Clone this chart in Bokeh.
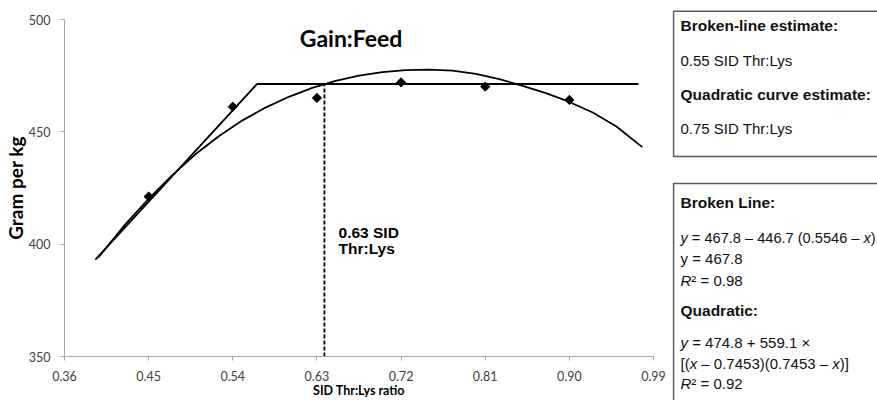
import numpy as np
from bokeh.plotting import figure
from bokeh.models import Range1d, FixedTicker, Label, PrintfTickFormatter
from bokeh.layouts import row
from bokeh.embed import file_html
from bokeh.resources import INLINE
from bokeh.core.properties import value

# ---------------- data ----------------
x_obs = [0.45, 0.54, 0.63, 0.72, 0.81, 0.90]
gf_obs = [421.2, 461.2, 465.1, 472.0, 470.1, 464.2]

broken_x = [0.393, 0.566, 0.974]
broken_y = [393.1, 471.3, 471.3]

quad_x = [0.396, 0.425, 0.45, 0.475, 0.50, 0.525, 0.55, 0.575, 0.60, 0.625, 0.65, 0.675,
          0.70, 0.725, 0.75, 0.775, 0.80, 0.825, 0.85, 0.875, 0.90, 0.925, 0.95, 0.978]
quad_y = [394.0, 408.8, 420.2, 430.6, 440.0, 448.0, 455.0, 460.8, 465.6, 469.6, 472.7, 475.0,
          476.6, 477.5, 477.7, 477.2, 475.8, 473.5, 470.5, 467.2, 463.3, 458.6, 452.5, 443.2]

opt_x = 0.638

x_ticks = [0.36, 0.45, 0.54, 0.63, 0.72, 0.81, 0.90, 0.99]
x_tick_labels = ["0.36", "0.45", "0.54", "0.63", "0.72", "0.81", "0.90", "0.99"]
y_ticks = [350, 400, 450, 500]

title_text = "Gain:Feed"
x_label = "SID Thr:Lys ratio"
y_label = "Gram per kg"
opt_label = ["0.63 SID", "Thr:Lys"]

# ---------------- main chart ----------------
CHART_FONT = "Lato"
AX_COL = "#a6a6a6"
LAB_COL = "#404040"

p = figure(width=672, height=400,
           x_range=Range1d(0.36, 0.99), y_range=Range1d(350, 500),
           output_backend="svg", toolbar_location=None,
           min_border_left=62, min_border_right=19,
           min_border_top=19, min_border_bottom=43)
p.frame_align = False
p.outline_line_color = None
p.grid.visible = False
p.background_fill_color = "white"

for ax in (p.xaxis[0], p.yaxis[0]):
    ax.axis_line_color = AX_COL
    ax.axis_line_width = 1
    ax.major_tick_line_color = AX_COL
    ax.major_tick_out = 4
    ax.major_tick_in = 0
    ax.minor_tick_out = 0
    ax.minor_tick_in = 0
    ax.major_label_text_font = CHART_FONT
    ax.major_label_text_font_size = "12.5px"
    ax.major_label_text_color = LAB_COL
    ax.axis_label_text_font = CHART_FONT
    ax.axis_label_text_font_style = "bold"
    ax.axis_label_text_color = "black"

p.xaxis.ticker = FixedTicker(ticks=x_ticks)
p.xaxis.formatter = PrintfTickFormatter(format="%.2f")
p.xaxis.major_label_overrides = {t: l for t, l in zip(x_ticks, x_tick_labels)}
p.xaxis.major_label_standoff = 10
p.xaxis.axis_label = x_label
p.xaxis.axis_label_text_font_size = "12.5px"
p.xaxis.axis_label_standoff = -1

p.yaxis.ticker = FixedTicker(ticks=y_ticks)
p.yaxis.major_label_standoff = 10
p.yaxis.axis_label = y_label
p.yaxis.axis_label_text_font_size = "19px"
p.yaxis.axis_label_standoff = -1

# fitted curves
p.line(quad_x, quad_y, line_color="black", line_width=1.8)
p.line(broken_x, broken_y, line_color="black", line_width=1.8)

# dashed optimum line
p.segment(x0=[opt_x], y0=[350], x1=[opt_x], y1=[broken_y[1]],
          line_color="black", line_width=1.8, line_dash="4 2")

# observed points
p.scatter(x_obs, gf_obs, marker="square", angle=np.pi / 4, size=6.5,
          fill_color="black", line_color="black")

# title
p.add_layout(Label(x=0.6665, y=491.6, text=title_text, text_align="center",
                   text_baseline="alphabetic", text_font=CHART_FONT,
                   text_font_style="bold", text_font_size="23px", text_color="black"))

# optimum annotation
p.add_layout(Label(x=0.6531, y=405.3, text=opt_label[0], text_align="left",
                   text_baseline="middle", text_font="Liberation Sans",
                   text_font_style="bold", text_font_size="15.5px", text_color="black"))
p.add_layout(Label(x=0.6531, y=398.2, text=opt_label[1], text_align="left",
                   text_baseline="middle", text_font="Liberation Sans",
                   text_font_style="bold", text_font_size="15.5px", text_color="black"))

# ---------------- side panel with text boxes ----------------
q = figure(width=205, height=400, x_range=Range1d(0, 205), y_range=Range1d(400, 0),
           output_backend="svg", toolbar_location=None,
           x_axis_location=None, y_axis_location=None, min_border=0)
q.frame_align = False
q.outline_line_color = None
q.grid.visible = False

q.quad(left=[1, 1], right=[220, 220], top=[10.7, 183], bottom=[156, 430],
       fill_color=None, line_color="#595959", line_width=1.6)

BOX_FONT = "Liberation Sans"
FS = 15.0
fs = f"{FS}px"
bold_fs = "15.5px"
X0 = 8
SP = 0.278  # width of a space (em)
FS1 = 14.6  # first equation line is a touch narrower so that it fits
fs1 = f"{FS1}px"

def put(x, y, txt, style="normal", size=fs):
    q.text(x=[x], y=[y], text=[txt], text_font=value(BOX_FONT), text_font_style=style,
           text_font_size=size, text_baseline="middle", text_align="left",
           text_color="#111111")

# box 1
put(X0, 25, "Broken-line estimate:", "bold", bold_fs)
put(X0, 60, "0.55 SID Thr:Lys")
put(X0, 94, "Quadratic curve estimate:", "bold", bold_fs)
put(X0, 128, "0.75 SID Thr:Lys")

# box 2
put(X0, 202, "Broken Line:", "bold", bold_fs)
put(X0, 237, "y", "italic", fs1)
put(X0 + (0.5 + SP) * FS1, 237, "= 467.8 \u2013 446.7 (0.5546 \u2013", "normal", fs1)
put(X0 + 12.537 * FS1, 237, "x", "italic", fs1)
put(X0 + 13.037 * FS1, 237, ")", "normal", fs1)
put(X0, 258, "y = 467.8")
put(X0, 280, "R", "italic")
put(X0 + 0.722 * FS, 280, "\u00b2 = 0.98")
put(X0, 310, "Quadratic:", "bold", bold_fs)
put(X0, 342, "y", "italic")
put(X0 + (0.5 + SP) * FS, 342, "= 474.8 + 559.1 \u00d7")
put(X0, 363, "[(")
put(X0 + 0.611 * FS, 363, "x", "italic")
put(X0 + (1.111 + SP) * FS, 363, "\u2013 0.7453)(0.7453 \u2013")
put(X0 + 10.117 * FS, 363, "x", "italic")
put(X0 + 10.617 * FS, 363, ")]")
put(X0, 383, "R", "italic")
put(X0 + 0.722 * FS, 383, "\u00b2 = 0.92")

layout = row(p, q)
open("out.html", "w").write(file_html(layout, INLINE))
